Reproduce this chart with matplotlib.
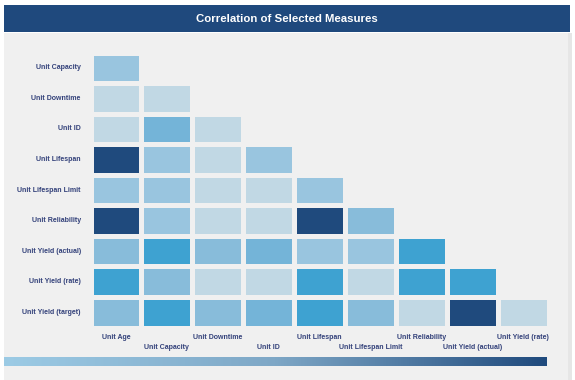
import numpy as np
import matplotlib
matplotlib.use('Agg')
import matplotlib.pyplot as plt
from matplotlib.colors import ListedColormap, BoundaryNorm, LinearSegmentedColormap
from matplotlib.patches import Rectangle

# Messgrößen (Zeilen / Spalten der unteren Dreiecksmatrix)
row_labels = ['Unit Capacity', 'Unit Downtime', 'Unit ID', 'Unit Lifespan', 'Unit Lifespan Limit',
              'Unit Reliability', 'Unit Yield (actual)', 'Unit Yield (rate)', 'Unit Yield (target)']
col_labels = ['Unit Age', 'Unit Capacity', 'Unit Downtime', 'Unit ID', 'Unit Lifespan',
              'Unit Lifespan Limit', 'Unit Reliability', 'Unit Yield (actual)', 'Unit Yield (rate)']

# Korrelationsstärke pro Zeile (geschätzt aus der Farbe)
corr_capacity = [0.3]
corr_downtime = [0.1, 0.1]
corr_id = [0.1, 0.5, 0.1]
corr_lifespan = [0.95, 0.3, 0.1, 0.3]
corr_lifespan_limit = [0.3, 0.3, 0.1, 0.1, 0.3]
corr_reliability = [0.95, 0.3, 0.1, 0.1, 0.95, 0.4]
corr_yield_actual = [0.4, 0.7, 0.4, 0.5, 0.3, 0.3, 0.7]
corr_yield_rate = [0.7, 0.4, 0.1, 0.1, 0.7, 0.1, 0.7, 0.7]
corr_yield_target = [0.4, 0.7, 0.4, 0.5, 0.7, 0.4, 0.1, 0.95, 0.1]

rows = [corr_capacity, corr_downtime, corr_id, corr_lifespan, corr_lifespan_limit,
        corr_reliability, corr_yield_actual, corr_yield_rate, corr_yield_target]

# Farbstufen
level_colors = ['#c1d8e4', '#99c5df', '#88bcda', '#74b4d8', '#3ea2d1', '#1f4a7d']
level_bounds = [0.0, 0.2, 0.35, 0.45, 0.6, 0.85, 1.0]

n = len(row_labels)
mat = np.full((n, n), np.nan)
for i, r in enumerate(rows):
    mat[i, :len(r)] = r
mat = np.ma.masked_invalid(mat)

bg = '#f0f0f0'
navy = '#1f497d'
label_col = '#33417a'
font = 'Liberation Sans'

fig = plt.figure(figsize=(5.75, 3.8), dpi=100)
fig.patch.set_facecolor('white')

# grauer Hintergrund + Titelleiste
fig.patches.append(Rectangle((4 / 575, 0), 564 / 575, 347 / 380, transform=fig.transFigure,
                             facecolor=bg, edgecolor='none', zorder=-5))
fig.patches.append(Rectangle((568 / 575, 0), 4 / 575, 347 / 380, transform=fig.transFigure,
                             facecolor='#e6e6e6', edgecolor='none', zorder=-5))
fig.patches.append(Rectangle((4 / 575, 348 / 380), 566 / 575, 27 / 380, transform=fig.transFigure,
                             facecolor=navy, edgecolor='none', zorder=-5))
fig.text(287 / 575, 1 - 19 / 380, 'Correlation of Selected Measures', color='white',
         fontsize=8.2, fontweight='bold', family=font, ha='center', va='center')

# Heatmap
ax = fig.add_axes([90.5 / 575, 52.5 / 380, 458 / 575, 275 / 380])
ax.set_facecolor('none')
cmap = ListedColormap(level_colors)
norm = BoundaryNorm(level_bounds, cmap.N)
ax.pcolormesh(np.arange(n + 1), np.arange(n + 1), mat, cmap=cmap, norm=norm,
              edgecolors=bg, linewidth=2.2)
ax.set_xlim(0, n)
ax.set_ylim(n, 0)
for s in ax.spines.values():
    s.set_visible(False)
ax.set_xticks([])
ax.set_yticks([])

for i, lab in enumerate(row_labels):
    ax.text(-0.19, i + 0.5, lab, ha='right', va='center', fontsize=5.0,
            fontweight='bold', color=label_col, family=font)
for j, lab in enumerate(col_labels):
    off = 9.33 if j % 2 == 0 else 9.67
    ax.text(j + 0.5, off, lab, ha='center', va='center', fontsize=5.0,
            fontweight='bold', color=label_col, family=font)

# Farbverlauf unten
cax = fig.add_axes([4 / 575, 14 / 380, 543 / 575, 9 / 380])
grad = LinearSegmentedColormap.from_list('grad', ['#9ccbe5', '#7ea7c6', '#1f4a7d'])
cax.imshow(np.linspace(0, 1, 256)[None, :], aspect='auto', cmap=grad)
cax.set_axis_off()

fig.savefig('out.png', dpi=100)
